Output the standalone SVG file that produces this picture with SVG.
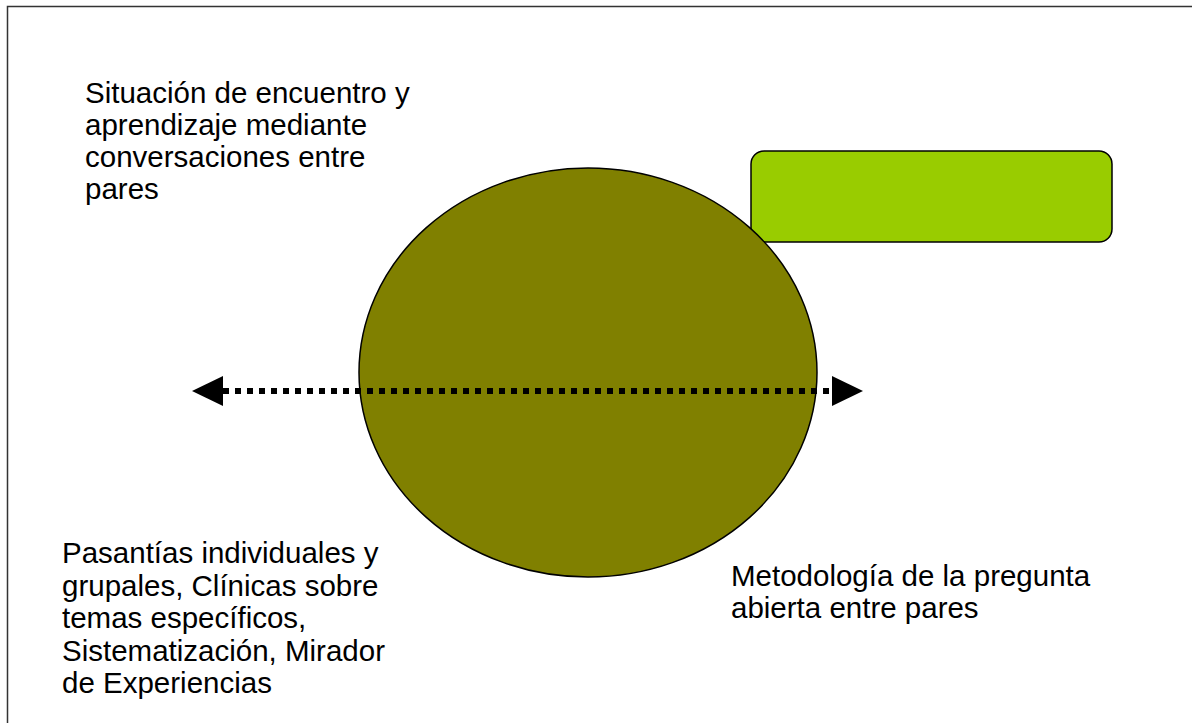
<svg xmlns="http://www.w3.org/2000/svg" width="1192" height="723" viewBox="0 0 1192 723">
  <style>
    .lbl { font-family: "Liberation Sans", Arial, sans-serif; font-size: 29.5px; fill: #000; }
    .frame { stroke: #333; stroke-width: 1.5; fill: none; }
  </style>
  <defs>
    <marker id="ah" markerUnits="userSpaceOnUse" markerWidth="32" markerHeight="32" refX="0" refY="16" orient="auto-start-reverse" viewBox="0 0 32 32">
      <path d="M0,1 L31,16 L0,31 Z" fill="#000"/>
    </marker>
  </defs>
  <rect width="1192" height="723" fill="#fff"/>
  <path class="frame" d="M7.5,723 V6.5 H1192"/>
  <g id="rect-node">
    <rect x="751" y="151" width="361" height="91" rx="13" fill="#99CC00" stroke="#000" stroke-width="1.5"/>
  </g>
  <g id="ellipse-node">
    <ellipse cx="588" cy="372.5" rx="229" ry="204.5" fill="#808000" stroke="#000" stroke-width="1.5"/>
  </g>
  <g id="connectors">
    <line x1="223" y1="391" x2="832" y2="391" stroke="#000" stroke-width="6" stroke-dasharray="6 6" marker-start="url(#ah)" marker-end="url(#ah)"/>
  </g>
  <g id="label-top">
    <text class="lbl" x="85" y="103">Situación de encuentro y</text>
    <text class="lbl" x="85" y="135">aprendizaje mediante</text>
    <text class="lbl" x="85" y="167">conversaciones entre</text>
    <text class="lbl" x="85" y="199">pares</text>
  </g>
  <g id="label-bottom-left">
    <text class="lbl" x="62" y="563">Pasantías individuales y</text>
    <text class="lbl" x="62" y="596">grupales, Clínicas sobre</text>
    <text class="lbl" x="62" y="628">temas específicos,</text>
    <text class="lbl" x="62" y="661">Sistematización, Mirador</text>
    <text class="lbl" x="62" y="693">de Experiencias</text>
  </g>
  <g id="label-bottom-right">
    <text class="lbl" x="731" y="586">Metodología de la pregunta</text>
    <text class="lbl" x="731" y="618">abierta entre pares</text>
  </g>
</svg>
